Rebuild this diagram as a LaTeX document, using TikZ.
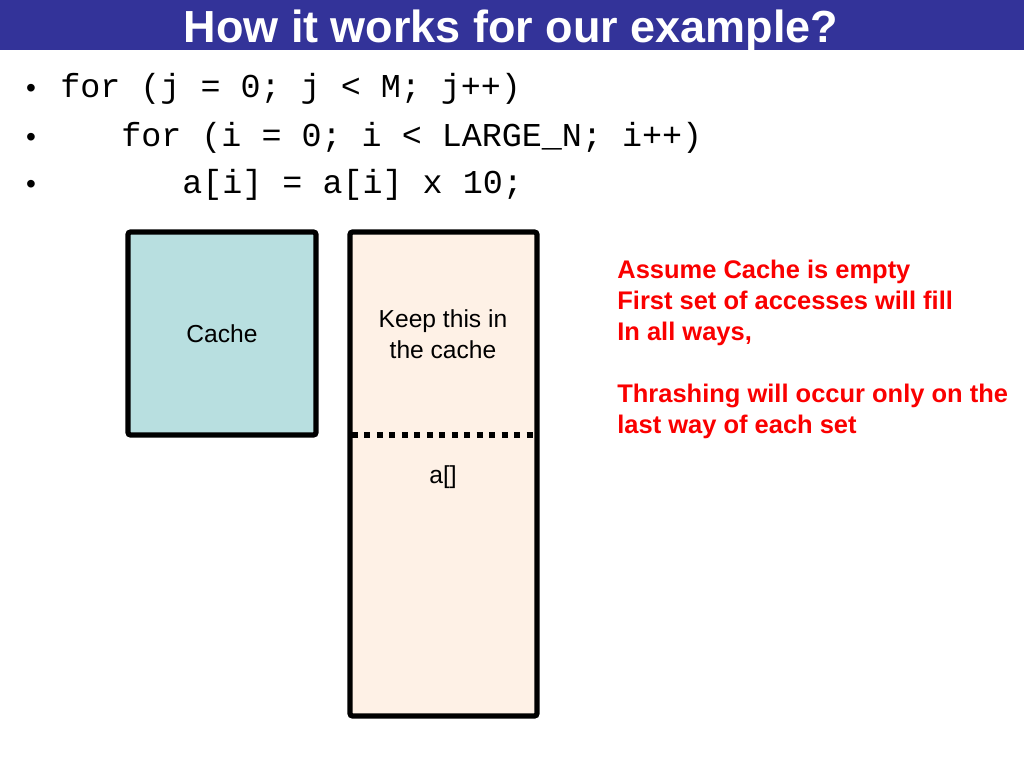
\documentclass[tikz,border=0pt]{standalone}
\usepackage{fontspec}
\setmainfont{Liberation Sans}
\setmonofont{Liberation Mono}
\usepackage{xcolor}
\usetikzlibrary{positioning}
\definecolor{band}{HTML}{333399}
\definecolor{cachefill}{HTML}{B8DFE0}
\definecolor{arrfill}{HTML}{FEF1E6}
\definecolor{note}{HTML}{FA0000}

\begin{document}
\begin{tikzpicture}[
  x=0.02cm, y=-0.02cm,
  titletext/.style={text=white, inner sep=0pt,
    font=\fontsize{25.6}{30}\selectfont\bfseries},
  codeline/.style={anchor=base west, inner sep=0pt,
    font=\fontsize{19}{23}\selectfont\ttfamily},
  dot/.style={anchor=base, inner sep=0pt, font=\fontsize{16}{20}\selectfont},
  memblock/.style={draw=black, line width=3pt, rounded corners=1.5pt},
  boxtext/.style={align=center, inner sep=0pt,
    font=\fontsize{14}{17.6}\selectfont},
  notetext/.style={anchor=north west, align=left, inner sep=0pt,
    text=note, font=\fontsize{14.5}{17.6}\selectfont\bfseries},
]
  \useasboundingbox (0,0) rectangle (1024,768);

  % title bar
  \fill[band] (0,0) rectangle (1024,50);
  \node[titletext, anchor=base] (title) at (511,42) {How it works for our example?};

  % loop code
  \foreach \y in {97,146,193} \node[dot] at (31,\y) {\textbullet};
  \node[codeline] (loopj) at (60,97) {for (j = 0; j < M; j++)};
  \node[codeline] (loopi) at (121,146) {for (i = 0; i < LARGE\_N; i++)};
  \node[codeline] (body) at (182,193) {a[i] = a[i] x 10;};

  % cache and array
  \draw[memblock, fill=cachefill] (128,232) rectangle (316,435);
  \node[boxtext] (cache) at (222,334) {Cache};
  \draw[memblock, fill=arrfill] (350,232) rectangle (537,716);
  \draw[line width=3.4pt, dash pattern=on 3.4pt off 3.7pt] (352,435) -- (535,435);
  \node[boxtext] (keep) at (443,334) {Keep this in\\the cache};
  \node[boxtext] (aidx) at (443,477) {a[]};

  % notes
  \node[notetext] (notes) at (617,260)
    {Assume Cache is empty\\First set of accesses will fill\\In all ways,\\[17.6pt]
     Thrashing will occur only on the\\last way of each set};
\end{tikzpicture}
\end{document}
